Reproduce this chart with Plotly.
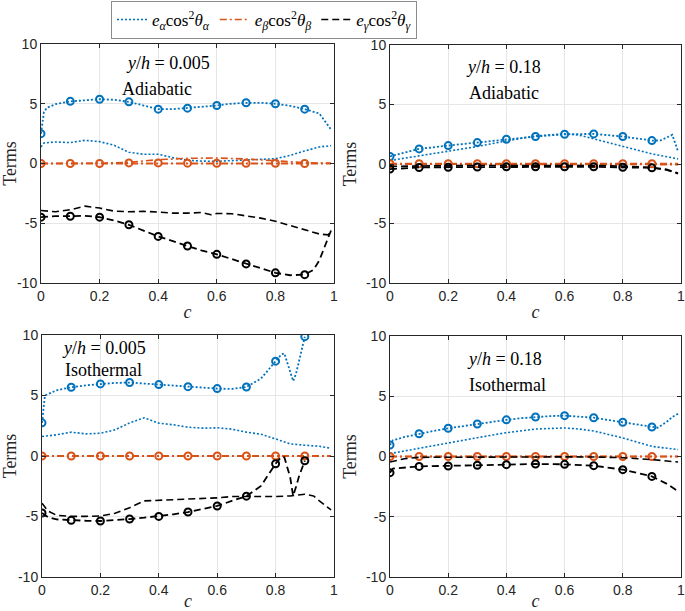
import plotly.graph_objects as go

# ---------------- data ----------------
# Panel A: y/h = 0.005, Adiabatic
a_alpha_m_c = [0, 0.01, 0.02, 0.05, 0.1, 0.15, 0.2, 0.25, 0.3, 0.35, 0.4, 0.45, 0.5, 0.55, 0.6, 0.65, 0.7, 0.75, 0.8, 0.85, 0.9, 0.95, 0.99]
a_alpha_m = [2.5, 4.3, 4.66, 4.97, 5.2, 5.3, 5.38, 5.33, 5.16, 4.85, 4.55, 4.55, 4.63, 4.74, 4.85, 5.0, 5.08, 5.08, 5.0, 4.83, 4.55, 4.18, 2.84]
a_alpha_p_c = [0, 0.01, 0.05, 0.1, 0.15, 0.2, 0.25, 0.3, 0.35, 0.4, 0.45, 0.5, 0.55, 0.6, 0.65, 0.7, 0.75, 0.8, 0.85, 0.9, 0.95, 0.99]
a_alpha_p = [1.38, 1.72, 1.8, 1.75, 1.94, 1.83, 1.52, 0.94, 0.77, 0.77, 0.49, 0.27, 0.2, 0.18, 0.24, 0.32, 0.35, 0.4, 0.68, 1.05, 1.38, 1.5]
a_beta_m_c = [0, 0.1, 0.2, 0.3, 0.4, 0.5, 0.6, 0.7, 0.8, 0.9, 0.99]
a_beta_m = [0, 0, 0, 0.05, 0.05, 0.03, 0.02, 0.02, 0.02, 0, 0]
a_beta_p_c = [0, 0.1, 0.2, 0.3, 0.4, 0.5, 0.6, 0.7, 0.8, 0.9, 0.99]
a_beta_p = [0, 0, 0.02, 0.1, 0.32, 0.43, 0.46, 0.38, 0.2, 0.07, 0.02]
a_gamma_m_c = [0, 0.05, 0.1, 0.15, 0.2, 0.25, 0.3, 0.35, 0.4, 0.45, 0.5, 0.55, 0.6, 0.65, 0.7, 0.75, 0.8, 0.85, 0.9, 0.93, 0.95, 0.99]
a_gamma_m = [-4.49, -4.4, -4.41, -4.38, -4.49, -4.77, -5.13, -5.6, -6.1, -6.5, -6.9, -7.3, -7.6, -8.0, -8.4, -8.77, -9.15, -9.35, -9.3, -8.9, -8.1, -5.6]
a_gamma_p_c = [0, 0.05, 0.1, 0.15, 0.2, 0.25, 0.3, 0.35, 0.4, 0.45, 0.5, 0.55, 0.58, 0.6, 0.65, 0.7, 0.75, 0.8, 0.85, 0.9, 0.95, 0.98, 0.99]
a_gamma_p = [-3.93, -4.04, -3.87, -3.57, -3.73, -3.99, -4.04, -4.0, -4.07, -4.15, -4.15, -4.1, -4.29, -4.18, -4.2, -4.38, -4.57, -4.83, -5.19, -5.55, -5.9, -5.97, -5.6]

# Panel B: y/h = 0.18, Adiabatic
b_alpha_m_c = [0, 0.1, 0.2, 0.3, 0.4, 0.5, 0.6, 0.7, 0.8, 0.9, 0.93, 0.97, 0.99]
b_alpha_m = [0.63, 1.27, 1.55, 1.8, 2.08, 2.31, 2.5, 2.53, 2.31, 1.97, 1.98, 2.45, 1.05]
b_alpha_p_c = [0, 0.1, 0.2, 0.3, 0.4, 0.5, 0.6, 0.65, 0.7, 0.8, 0.9, 0.99]
b_alpha_p = [0.29, 0.69, 1.05, 1.47, 1.94, 2.36, 2.53, 2.42, 2.11, 1.47, 0.85, 0.43]
b_beta_m_c = [0, 0.1, 0.2, 0.3, 0.4, 0.5, 0.6, 0.7, 0.8, 0.9, 0.99]
b_beta_m = [0.02, 0.02, 0.02, 0.02, 0.02, 0.02, 0.02, 0.02, 0.02, 0.02, 0.02]
b_beta_p_c = [0, 0.1, 0.2, 0.3, 0.4, 0.5, 0.6, 0.7, 0.8, 0.9, 0.99]
b_beta_p = [-0.02, -0.02, -0.02, -0.02, -0.02, -0.02, -0.02, -0.02, -0.02, -0.03, -0.05]
b_gamma_m_c = [0, 0.1, 0.2, 0.3, 0.4, 0.5, 0.6, 0.7, 0.8, 0.9, 0.95, 0.99]
b_gamma_m = [-0.43, -0.29, -0.27, -0.25, -0.24, -0.24, -0.24, -0.24, -0.27, -0.32, -0.45, -0.77]
b_gamma_p_c = [0, 0.1, 0.2, 0.3, 0.4, 0.5, 0.6, 0.7, 0.8, 0.9, 0.95, 0.99]
b_gamma_p = [-0.2, -0.15, -0.14, -0.13, -0.12, -0.12, -0.12, -0.13, -0.18, -0.28, -0.5, -0.82]

# Panel C: y/h = 0.005, Isothermal
c_alpha_m_c = [0, 0.01, 0.05, 0.1, 0.15, 0.2, 0.25, 0.3, 0.35, 0.4, 0.45, 0.5, 0.55, 0.6, 0.65, 0.7, 0.75, 0.8, 0.82, 0.83, 0.85, 0.86, 0.87, 0.88, 0.9]
c_alpha_m = [2.74, 5.0, 5.43, 5.68, 5.84, 5.96, 6.04, 6.07, 5.98, 5.9, 5.79, 5.73, 5.62, 5.57, 5.54, 5.7, 6.4, 7.84, 8.4, 8.48, 6.95, 6.2, 6.8, 7.9, 9.86]
c_alpha_p_c = [0, 0.05, 0.1, 0.15, 0.2, 0.25, 0.3, 0.35, 0.4, 0.45, 0.5, 0.55, 0.6, 0.65, 0.7, 0.75, 0.8, 0.85, 0.9, 0.95, 0.99]
c_alpha_p = [1.61, 1.75, 1.97, 1.83, 1.88, 2.16, 2.74, 3.16, 2.71, 2.58, 2.38, 2.3, 2.33, 2.22, 1.97, 1.8, 1.41, 1.0, 0.89, 0.8, 0.64]
c_beta_m_c = [0, 0.1, 0.2, 0.3, 0.4, 0.5, 0.6, 0.7, 0.8, 0.9, 0.99]
c_beta_m = [0, 0, 0, 0, 0, 0, 0, 0, 0, 0, 0]
c_beta_p_c = [0, 0.1, 0.2, 0.3, 0.4, 0.5, 0.6, 0.7, 0.8, 0.9, 0.99]
c_beta_p = [0, 0, 0, 0, 0, 0, 0, 0, 0, 0, 0]
c_gamma_m_c = [0, 0.02, 0.05, 0.1, 0.15, 0.2, 0.25, 0.3, 0.35, 0.4, 0.45, 0.5, 0.55, 0.6, 0.65, 0.7, 0.75, 0.8, 0.82, 0.83, 0.85, 0.86, 0.87, 0.88, 0.9]
c_gamma_m = [-4.71, -5.04, -5.24, -5.32, -5.35, -5.37, -5.32, -5.21, -5.1, -4.99, -4.82, -4.63, -4.4, -4.13, -3.71, -3.32, -2.47, -0.64, -0.06, -0.1, -1.77, -3.3, -2.55, -1.7, -0.39]
c_gamma_p_c = [0, 0.02, 0.05, 0.1, 0.15, 0.2, 0.25, 0.3, 0.35, 0.4, 0.45, 0.5, 0.55, 0.6, 0.65, 0.7, 0.75, 0.8, 0.85, 0.9, 0.93, 0.95, 0.99]
c_gamma_p = [-3.9, -4.54, -4.9, -4.99, -4.99, -4.96, -4.74, -4.27, -3.71, -3.66, -3.63, -3.52, -3.49, -3.46, -3.35, -3.32, -3.35, -3.35, -3.3, -3.16, -3.3, -3.71, -4.46]

# Panel D: y/h = 0.18, Isothermal
d_alpha_m_c = [0, 0.01, 0.05, 0.1, 0.15, 0.2, 0.25, 0.3, 0.35, 0.4, 0.45, 0.5, 0.55, 0.6, 0.65, 0.7, 0.75, 0.8, 0.85, 0.9, 0.92, 0.95, 0.97, 0.99]
d_alpha_m = [0.95, 1.34, 1.62, 1.89, 2.12, 2.34, 2.53, 2.7, 2.89, 3.04, 3.18, 3.28, 3.35, 3.39, 3.33, 3.22, 3.03, 2.84, 2.64, 2.45, 2.39, 2.86, 3.28, 3.55]
d_alpha_p_c = [0, 0.1, 0.2, 0.3, 0.4, 0.5, 0.55, 0.6, 0.65, 0.7, 0.8, 0.9, 0.99]
d_alpha_p = [0.24, 0.71, 1.12, 1.56, 1.98, 2.28, 2.35, 2.37, 2.28, 2.12, 1.54, 0.84, 0.57]
d_beta_m_c = [0, 0.1, 0.2, 0.3, 0.4, 0.5, 0.6, 0.7, 0.8, 0.9, 0.99]
d_beta_m = [0, 0, 0, 0, 0, 0, 0, 0, 0, 0, 0]
d_beta_p_c = [0, 0.1, 0.2, 0.3, 0.4, 0.5, 0.6, 0.7, 0.8, 0.9, 0.99]
d_beta_p = [0, 0, 0, 0, 0, 0, 0, 0, 0, 0, 0]
d_gamma_m_c = [0, 0.01, 0.1, 0.2, 0.3, 0.4, 0.5, 0.6, 0.7, 0.8, 0.9, 0.95, 0.99]
d_gamma_m = [-1.34, -1.0, -0.82, -0.79, -0.73, -0.68, -0.62, -0.65, -0.76, -1.09, -1.65, -2.25, -2.89]
d_gamma_p_c = [0, 0.05, 0.1, 0.2, 0.3, 0.4, 0.5, 0.6, 0.7, 0.8, 0.9, 0.99]
d_gamma_p = [-0.46, -0.18, -0.07, -0.05, -0.04, -0.03, -0.03, -0.03, -0.04, -0.1, -0.26, -0.46]

x_tickvals = [0, 0.2, 0.4, 0.6, 0.8, 1]
x_ticktext = ["0", "0.2", "0.4", "0.6", "0.8", "1"]
y_tickvals = [-10, -5, 0, 5, 10]
y_ticktext = ["-10", "-5", "0", "5", "10"]

panel_titles = [
    ("<i>y</i>/<i>h</i> = 0.005", "Adiabatic"),
    ("<i>y</i>/<i>h</i> = 0.18", "Adiabatic"),
    ("<i>y</i>/<i>h</i> = 0.005", "Isothermal"),
    ("<i>y</i>/<i>h</i> = 0.18", "Isothermal"),
]
legend_names = [
    "<i>e</i><sub><i>α</i></sub>cos<sup>2</sup><i>θ</i><sub><i>α</i></sub>",
    "<i>e</i><sub><i>β</i></sub>cos<sup>2</sup><i>θ</i><sub><i>β</i></sub>",
    "<i>e</i><sub><i>γ</i></sub>cos<sup>2</sup><i>θ</i><sub><i>γ</i></sub>",
]

# ---------------- styling ----------------
BLUE = "#0072BD"
ORANGE = "#D95319"
BLACK = "#000000"
SERIF = "Liberation Serif, Times New Roman, serif"
SANS = "Liberation Sans, Arial, sans-serif"
styles = [
    (BLUE, "2px,2px"),
    (ORANGE, "7px,3px,2px,3px"),
    (BLACK, "7px,4px"),
]

panels = [
    dict(series=[(a_alpha_m_c, a_alpha_m, a_alpha_p_c, a_alpha_p),
                 (a_beta_m_c, a_beta_m, a_beta_p_c, a_beta_p),
                 (a_gamma_m_c, a_gamma_m, a_gamma_p_c, a_gamma_p)],
         xdom=[41 / 685, 334 / 685], ydom=[1 - 283 / 611, 1 - 44 / 611],
         lab=(0.435, 8.4, 0.395, 6.2)),
    dict(series=[(b_alpha_m_c, b_alpha_m, b_alpha_p_c, b_alpha_p),
                 (b_beta_m_c, b_beta_m, b_beta_p_c, b_beta_p),
                 (b_gamma_m_c, b_gamma_m, b_gamma_p_c, b_gamma_p)],
         xdom=[390 / 685, 681 / 685], ydom=[1 - 283 / 611, 1 - 45 / 611],
         lab=(0.39, 8.15, 0.393, 5.97)),
    dict(series=[(c_alpha_m_c, c_alpha_m, c_alpha_p_c, c_alpha_p),
                 (c_beta_m_c, c_beta_m, c_beta_p_c, c_beta_p),
                 (c_gamma_m_c, c_gamma_m, c_gamma_p_c, c_gamma_p)],
         xdom=[42 / 685, 334 / 685], ydom=[1 - 577 / 611, 1 - 335 / 611],
         lab=(0.212, 8.92, 0.21, 7.1)),
    dict(series=[(d_alpha_m_c, d_alpha_m, d_alpha_p_c, d_alpha_p),
                 (d_beta_m_c, d_beta_m, d_beta_p_c, d_beta_p),
                 (d_gamma_m_c, d_gamma_m, d_gamma_p_c, d_gamma_p)],
         xdom=[390 / 685, 681 / 685], ydom=[1 - 577 / 611, 1 - 336 / 611],
         lab=(0.393, 8.09, 0.403, 5.93)),
]

fig = go.Figure()
layout = dict(
    width=685, height=611, template="none",
    margin=dict(l=0, r=0, t=0, b=0),
    paper_bgcolor="white", plot_bgcolor="white",
    showlegend=True,
    legend=dict(orientation="h", x=264 / 685, y=1 - 1 / 611, xanchor="center", yanchor="top",
                bordercolor="#8c8c8c", borderwidth=1, bgcolor="white",
                font=dict(family=SERIF, size=17, color="#000"),
                itemwidth=30, tracegroupgap=0),
    annotations=[],
)

for i, p in enumerate(panels):
    n = "" if i == 0 else str(i + 1)
    xa, ya = "x" + n, "y" + n
    for k, (mc, mv, pc, pv) in enumerate(p["series"]):
        color, dash = styles[k]
        # plain curve (no markers)
        fig.add_trace(go.Scatter(x=pc, y=pv, mode="lines", xaxis=xa, yaxis=ya,
                                 line=dict(color=color, width=1.6, dash=dash),
                                 name=legend_names[k], showlegend=(i == 0), hoverinfo="skip"))
        # marked curve
        fig.add_trace(go.Scatter(x=mc, y=mv, mode="lines", xaxis=xa, yaxis=ya,
                                 line=dict(color=color, width=1.8, dash=dash),
                                 showlegend=False, hoverinfo="skip"))
        sel = [j for j, cv in enumerate(mc) if abs(cv * 10 - round(cv * 10)) < 1e-9 and cv < 0.95]
        fig.add_trace(go.Scatter(x=[mc[j] for j in sel], y=[mv[j] for j in sel], mode="markers",
                                 xaxis=xa, yaxis=ya,
                                 marker=dict(symbol="circle-open", size=7, color=color,
                                             line=dict(width=2, color=color)),
                                 showlegend=False, hoverinfo="skip"))
    axcommon = dict(showline=True, linecolor="#262626", linewidth=1, mirror="ticks",
                    ticks="inside", ticklen=4, tickcolor="#262626",
                    showgrid=True, gridcolor="#e6e6e6", gridwidth=1, zeroline=False,
                    ticklabeloverflow="allow",
                    tickfont=dict(family=SANS, size=14, color="#262626"))
    layout["xaxis" + n] = dict(axcommon, domain=p["xdom"], range=[0, 1], anchor=ya,
                               tickvals=x_tickvals, ticktext=x_ticktext,
                               title=dict(text="<i>c</i>", font=dict(family=SERIF, size=18, color="#262626"),
                                          standoff=2))
    layout["yaxis" + n] = dict(axcommon, domain=p["ydom"], range=[-10, 10], anchor=xa,
                               tickvals=y_tickvals, ticktext=y_ticktext,
                               title=dict(text="Terms", font=dict(family=SERIF, size=18, color="#262626"),
                                          standoff=4))
    x1, y1, x2, y2 = p["lab"]
    t1, t2 = panel_titles[i]
    layout["annotations"].append(dict(x=x1, y=y1, xref=xa, yref=ya, text=t1, showarrow=False,
                                      font=dict(family=SERIF, size=18, color="#000")))
    layout["annotations"].append(dict(x=x2, y=y2, xref=xa, yref=ya, text=t2, showarrow=False,
                                      font=dict(family=SERIF, size=18, color="#000")))

fig.update_layout(**layout)
post = (
    "document.body.style.margin='0';document.body.style.padding='0';"
    "var gd=document.getElementById('{plot_id}');"
    "Plotly.relayout(gd,{'xaxis2.range':[0,1],'xaxis4.range':[0,1]});"
)
fig.write_html("out.html", config={"displayModeBar": False}, post_script=post)
